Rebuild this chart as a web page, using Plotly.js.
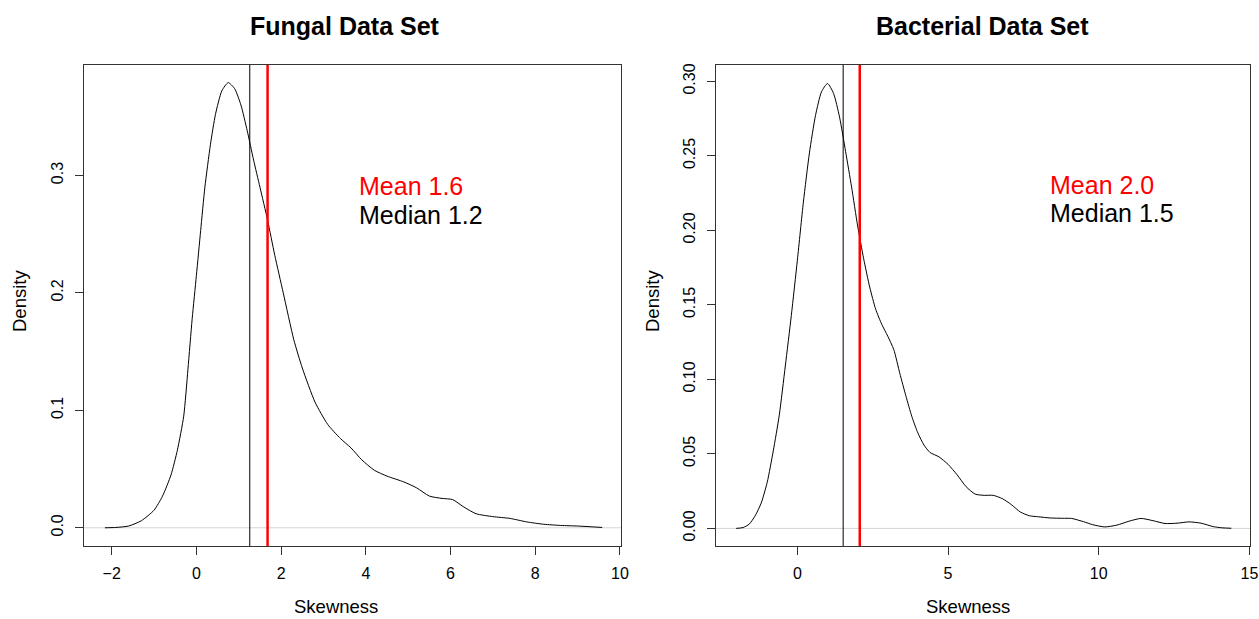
<!DOCTYPE html>
<html>
<head>
<meta charset="utf-8">
<script src="https://cdn.plot.ly/plotly-3.0.1.min.js"></script>
<style>html,body{margin:0;padding:0;background:#fff;}#chart{width:1259px;height:619px;}</style>
</head>
<body>
<div id="chart"></div>
<script>
// ---- Data ----
const panelTitles = ["Fungal Data Set", "Bacterial Data Set"];
const xLabel = "Skewness";
const yLabel = "Density";

const fungalX = [-2.16,-1.9,-1.6,-1.3,-1.0,-0.8,-0.6,-0.45,-0.3,-0.2,-0.1,0.0,0.1,0.2,0.33,0.45,0.6,0.75,0.9,1.05,1.2,1.35,1.5,1.68,1.85,2.05,2.3,2.5,2.8,3.1,3.4,3.65,3.9,4.2,4.5,4.9,5.2,5.5,5.8,6.05,6.3,6.6,7.0,7.4,7.8,8.2,8.6,9.0,9.58];
const fungalY = [0,0.0003,0.0015,0.006,0.015,0.027,0.045,0.066,0.095,0.135,0.178,0.215,0.253,0.29,0.326,0.352,0.372,0.379,0.374,0.36,0.338,0.313,0.29,0.262,0.232,0.2,0.16,0.136,0.107,0.088,0.076,0.068,0.058,0.049,0.044,0.039,0.034,0.027,0.025,0.024,0.018,0.012,0.0095,0.008,0.005,0.003,0.002,0.0015,0.0003];

const bactX = [-2.03,-1.8,-1.6,-1.4,-1.2,-1.0,-0.8,-0.6,-0.4,-0.2,0,0.2,0.4,0.6,0.8,1.0,1.2,1.4,1.6,1.8,2.0,2.2,2.4,2.6,2.8,3.0,3.2,3.4,3.6,3.8,4.0,4.2,4.4,4.7,5.0,5.3,5.6,5.9,6.2,6.5,6.8,7.1,7.4,7.7,8.0,8.4,8.8,9.1,9.5,9.8,10.2,10.6,11.0,11.4,11.8,12.2,12.6,13.0,13.4,13.8,14.1,14.4];
const bactY = [0,0.0006,0.0028,0.0085,0.017,0.031,0.052,0.076,0.109,0.143,0.18,0.219,0.252,0.277,0.293,0.2986,0.292,0.276,0.253,0.229,0.203,0.181,0.162,0.147,0.137,0.129,0.12,0.104,0.089,0.075,0.064,0.056,0.051,0.048,0.043,0.036,0.028,0.023,0.0222,0.0222,0.02,0.016,0.011,0.0085,0.0078,0.007,0.0068,0.0067,0.0045,0.0025,0.001,0.0022,0.0048,0.0067,0.0052,0.0033,0.0035,0.0044,0.0035,0.0012,0.0004,0.0001];

const medians = [1.26, 1.52];
const means = [1.68, 2.07];
const meanLabels = ["Mean 1.6", "Mean 2.0"];
const medianLabels = ["Median 1.2", "Median 1.5"];

// ---- Styling / layout ----
const FONT = "Liberation Sans, Arial, Helvetica, sans-serif";
const lineCol = "#333333";

const traces = [
  {x: fungalX, y: fungalY, xaxis: "x", yaxis: "y", type: "scatter", mode: "lines",
   line: {color: "#000", width: 1, shape: "spline", smoothing: 0.6}, hoverinfo: "skip"},
  {x: bactX, y: bactY, xaxis: "x2", yaxis: "y2", type: "scatter", mode: "lines",
   line: {color: "#000", width: 1, shape: "spline", smoothing: 0.6}, hoverinfo: "skip"}
];

function xAxis(domain, range, dtick, anchor) {
  return {domain: domain, range: range, anchor: anchor, dtick: dtick, tick0: 0,
    showgrid: false, zeroline: false, showline: true, mirror: true,
    linecolor: lineCol, linewidth: 1, ticks: "outside", ticklen: 8, tickwidth: 1,
    tickcolor: lineCol, tickfont: {family: FONT, size: 16, color: "#000"},
    ticklabelstandoff: 5, fixedrange: true};
}
function yAxis(domain, range, dtick, fmt, anchor) {
  return {domain: domain, range: range, anchor: anchor, dtick: dtick, tick0: 0,
    tickformat: fmt, tickangle: -90,
    showgrid: false, zeroline: false, showline: true, mirror: true,
    linecolor: lineCol, linewidth: 1, ticks: "outside", ticklen: 8, tickwidth: 1,
    tickcolor: lineCol, tickfont: {family: FONT, size: 16, color: "#000"},
    ticklabelstandoff: 6, fixedrange: true};
}

const xd1 = [84/1259, 621/1259], xd2 = [716/1259, 1250/1259];
const yd = [1 - 546/619, 1 - 65/619];

const shapes = [];
const xrefs = ["x", "x2"], yrefs = ["y", "y2"];
for (let i = 0; i < 2; i++) {
  // zero reference line
  shapes.push({type: "line", xref: xrefs[i] + " domain", yref: yrefs[i], x0: 0, x1: 1, y0: 0, y1: 0,
    line: {color: "#d4d4d4", width: 1}, layer: "below"});
  // median line
  shapes.push({type: "line", xref: xrefs[i], yref: yrefs[i] + " domain", x0: medians[i], x1: medians[i], y0: 0, y1: 1,
    line: {color: "#000", width: 1}});
  // mean line
  shapes.push({type: "line", xref: xrefs[i], yref: yrefs[i] + " domain", x0: means[i], x1: means[i], y0: 0, y1: 1,
    line: {color: "#ff0000", width: 2.5}});
}

const annotations = [];
const titleX = [345/1259, 982/1259];
const xlabX = [335.5/1259, 967.5/1259];
const ylabX = [19/1259, 652/1259];
const textPos = [{x: 3.80, yMean: 0.291, yMed: 0.266}, {x: 8.32, yMean: 0.2305, yMed: 0.2117}];
for (let i = 0; i < 2; i++) {
  annotations.push({text: panelTitles[i], xref: "paper", yref: "paper", x: titleX[i], y: 1 - 26/619,
    xanchor: "center", yanchor: "middle", showarrow: false,
    font: {family: FONT, size: 25, color: "#000", weight: "bold"}});
  annotations.push({text: xLabel, xref: "paper", yref: "paper", x: xlabX[i], y: 1 - 618/619,
    xanchor: "center", yanchor: "bottom", showarrow: false, borderpad: 0,
    font: {family: FONT, size: 18.5, color: "#000"}});
  annotations.push({text: yLabel, xref: "paper", yref: "paper", x: ylabX[i], y: 1 - 301/619,
    xanchor: "center", yanchor: "middle", textangle: -90, showarrow: false,
    font: {family: FONT, size: 18.5, color: "#000"}});
  annotations.push({text: meanLabels[i], xref: xrefs[i], yref: yrefs[i], x: textPos[i].x, y: textPos[i].yMean,
    xanchor: "left", yanchor: "middle", showarrow: false,
    font: {family: FONT, size: 25, color: "#ff0000"}});
  annotations.push({text: medianLabels[i], xref: xrefs[i], yref: yrefs[i], x: textPos[i].x, y: textPos[i].yMed,
    xanchor: "left", yanchor: "middle", showarrow: false,
    font: {family: FONT, size: 25, color: "#000"}});
}

const layout = {
  width: 1259, height: 619,
  margin: {l: 0, r: 0, t: 0, b: 0},
  paper_bgcolor: "#fff", plot_bgcolor: "#fff",
  showlegend: false,
  font: {family: FONT, color: "#000"},
  xaxis: xAxis(xd1, [-2.654, 10.024], 2, "y"),
  yaxis: yAxis(yd, [-0.0155, 0.394], 0.1, ".1f", "x"),
  xaxis2: xAxis(xd2, [-2.70, 15.02], 5, "y2"),
  yaxis2: yAxis(yd, [-0.0118, 0.311], 0.05, ".2f", "x2"),
  shapes: shapes,
  annotations: annotations
};

Plotly.newPlot("chart", traces, layout, {staticPlot: true, displayModeBar: false});
</script>
</body>
</html>
